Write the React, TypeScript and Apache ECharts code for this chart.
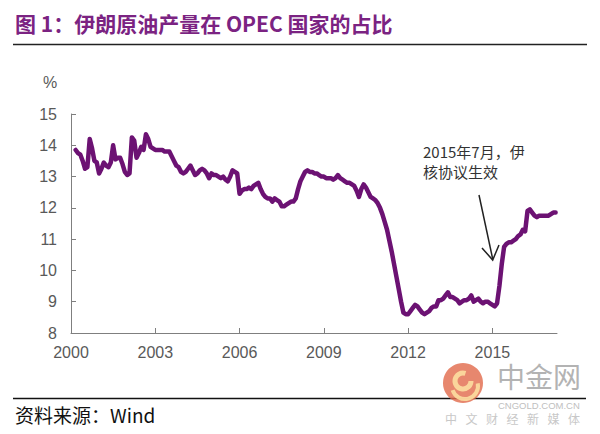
import React, { useEffect, useRef } from "react";
import * as echarts from "echarts";

// Iran's share of OPEC crude output (%), monthly, starting March 2000
const firstYear = 2000;
const firstMonth = 3; // March
const sharePct: number[] = [
  // 2000 (Mar-Dec)
  13.85, 13.75, 13.7, 13.5, 13.25, 13.3, 14.2, 13.9, 13.5, 13.45,
  // 2001
  13.1, 13.25, 13.45, 13.35, 13.3, 13.45, 14.0, 13.55, 13.6, 13.6, 13.4, 13.15,
  // 2002
  13.05, 13.1, 14.25, 14.15, 13.6, 13.75, 13.95, 13.85, 14.35, 14.2, 13.95, 13.9,
  // 2003
  13.85, 13.85, 13.85, 13.85, 13.8, 13.8, 13.8, 13.65, 13.5, 13.35, 13.3, 13.15,
  // 2004
  13.1, 13.15, 13.25, 13.35, 13.2, 13.05, 13.1, 13.2, 13.25, 13.2, 13.1, 12.95,
  // 2005
  13.1, 13.05, 13.05, 13.0, 12.95, 13.0, 12.9, 12.85, 13.0, 13.2, 13.15, 13.1,
  // 2006
  12.45, 12.55, 12.6, 12.6, 12.65, 12.6, 12.7, 12.75, 12.8, 12.6, 12.45, 12.35,
  // 2007
  12.3, 12.3, 12.2, 12.3, 12.25, 12.2, 12.05, 12.05, 12.1, 12.15, 12.2, 12.2,
  // 2008
  12.3, 12.6, 12.85, 13.0, 13.15, 13.2, 13.15, 13.15, 13.1, 13.1, 13.05, 13.0,
  // 2009
  13.0, 12.95, 12.95, 12.95, 12.9, 12.95, 13.05, 12.95, 12.9, 12.85, 12.8, 12.8,
  // 2010
  12.75, 12.7, 12.55, 12.35, 12.6, 12.75, 12.65, 12.5, 12.35, 12.3, 12.25, 12.15,
  // 2011
  12.0, 11.8, 11.55, 11.3, 10.95, 10.6, 10.2, 9.8, 9.4, 9.0, 8.65, 8.6,
  // 2012
  8.6, 8.7, 8.8, 8.9, 8.85, 8.75, 8.65, 8.6, 8.65, 8.7, 8.8, 8.85,
  // 2013
  8.85, 9.05, 9.05, 9.1, 9.2, 9.3, 9.15, 9.15, 9.1, 9.05, 8.95, 9.0,
  // 2014
  9.05, 9.05, 9.1, 9.2, 9.0, 9.05, 9.1, 9.0, 8.95, 9.0, 9.0, 8.95,
  // 2015
  8.9, 8.85, 8.95, 9.5, 10.2, 10.75, 10.85, 10.9, 10.9, 10.95, 11.0, 11.1,
  // 2016
  11.15, 11.3, 11.25, 11.9, 11.95, 11.85, 11.75, 11.7, 11.75, 11.75, 11.75, 11.75,
  // 2017
  11.75, 11.8, 11.85, 11.85,
];

const yearTicks = [2000, 2003, 2006, 2009, 2012, 2015];
const innerYearTicks = [2003, 2006, 2009, 2012, 2015];

const titleText = "图 1：伊朗原油产量在 OPEC 国家的占比";
const sourceText = "资料来源：Wind";
const noteLines = ["2015年7月，伊", "核协议生效"];
const unitText = "%";
const wmMain = "中金网";
const wmSub = "CNGOLD.COM.CN";
const wmTag = "中文财经新媒体";

const CJK = '"Noto Sans CJK SC", "Liberation Sans", sans-serif';
const LAT = '"Liberation Sans", Arial, sans-serif';

export default function App() {
  const ref = useRef<HTMLDivElement>(null);

  useEffect(() => {
    if (!ref.current) return;
    const chart = echarts.init(ref.current, undefined, { renderer: "svg" });

    const seriesData = sharePct.map((v, i) => {
      const idx = firstMonth - 1 + i;
      return [firstYear + idx / 12, v];
    });

    const tagChars = wmTag.split("").map((ch, i) => ({
      type: "text",
      x: 445 + i * 20.5,
      y: 418,
      z: 20,
      style: {
        text: ch,
        font: `12px ${CJK}`,
        fill: "#c8c8c8",
        verticalAlign: "middle",
      },
    }));

    chart.setOption({
      animation: false,
      backgroundColor: "#ffffff",
      grid: { left: 71, right: 43, top: 114, bottom: 101, containLabel: false },
      xAxis: {
        type: "value",
        min: 2000,
        max: 2017.3,
        interval: 1,
        splitLine: { show: false },
        axisLine: { lineStyle: { color: "#7f7f7f", width: 1 } },
        axisTick: {
          inside: true,
          length: 5,
          customValues: innerYearTicks,
          lineStyle: { color: "#7f7f7f" },
        },
        axisLabel: {
          customValues: yearTicks,
          formatter: (v: number) => String(Math.round(v)),
          color: "#595959",
          fontFamily: LAT,
          fontSize: 16,
          margin: 11,
        },
      },
      yAxis: {
        type: "value",
        min: 8,
        max: 15,
        interval: 1,
        splitLine: { show: false },
        axisLine: { show: true, lineStyle: { color: "#7f7f7f", width: 1 } },
        axisTick: { show: true, inside: true, length: 5, lineStyle: { color: "#7f7f7f" } },
        axisLabel: {
          color: "#595959",
          fontFamily: LAT,
          fontSize: 16,
          margin: 14,
        },
      },
      series: [
        {
          type: "line",
          data: seriesData,
          showSymbol: false,
          symbol: "none",
          lineStyle: { color: "#6c1273", width: 4.5, join: "round", cap: "round" },
          z: 5,
        },
      ],
      graphic: [
        {
          type: "text",
          x: 15,
          y: 23,
          style: {
            text: titleText,
            font: `bold 21px ${CJK}`,
            fill: "#7b2382",
            verticalAlign: "middle",
          },
        },
        {
          type: "line",
          shape: { x1: 13, y1: 44.5, x2: 587, y2: 44.5 },
          style: { stroke: "#222", lineWidth: 1.5 },
        },
        {
          type: "text",
          x: 43,
          y: 82,
          style: { text: unitText, font: `16px ${LAT}`, fill: "#595959", verticalAlign: "middle" },
        },
        {
          type: "text",
          x: 423,
          y: 151,
          style: { text: noteLines[0], font: `15px ${CJK}`, fill: "#333", verticalAlign: "middle" },
        },
        {
          type: "text",
          x: 423,
          y: 171,
          style: { text: noteLines[1], font: `15px ${CJK}`, fill: "#333", verticalAlign: "middle" },
        },
        {
          type: "line",
          shape: { x1: 479, y1: 195, x2: 492.7, y2: 259 },
          style: { stroke: "#222", lineWidth: 1.5 },
        },
        {
          type: "polyline",
          shape: { points: [[482, 248], [492.7, 260], [499, 245]] },
          style: { stroke: "#222", lineWidth: 1.5, fill: null },
        },
        {
          type: "line",
          shape: { x1: 13, y1: 398.5, x2: 586, y2: 398.5 },
          style: { stroke: "#111", lineWidth: 1.5 },
        },
        {
          type: "text",
          x: 15,
          y: 414,
          style: { text: sourceText, font: `19px ${CJK}`, fill: "#111", verticalAlign: "middle" },
        },
        // watermark
        {
          type: "circle",
          z: 20,
          shape: { cx: 463, cy: 383, r: 20 },
          style: { fill: "rgba(226,108,78,0.82)" },
        },
        {
          type: "arc",
          z: 21,
          shape: { cx: 463, cy: 381, r: 8, startAngle: 0, endAngle: Math.PI * 1.6 },
          style: { stroke: "rgba(252,222,160,0.9)", lineWidth: 5, fill: null },
        },
        {
          type: "arc",
          z: 21,
          shape: { cx: 465, cy: 386, r: 13, startAngle: -0.2, endAngle: Math.PI * 0.9 },
          style: { stroke: "rgba(252,222,160,0.9)", lineWidth: 4, fill: null },
        },
        {
          type: "text",
          x: 497,
          y: 376,
          z: 20,
          style: { text: wmMain, font: `28px ${CJK}`, fill: "#b3b3b3", verticalAlign: "middle" },
        },
        {
          type: "text",
          x: 498,
          y: 405,
          z: 20,
          style: { text: wmSub, font: `9.5px ${LAT}`, fill: "#c0c0c0", verticalAlign: "middle" },
        },
        ...tagChars,
      ],
    });

    return () => chart.dispose();
  }, []);

  return (
    <div
      ref={ref}
      style={{ position: "fixed", left: 0, top: 0, width: 600, height: 434, background: "#fff" }}
    />
  );
}
